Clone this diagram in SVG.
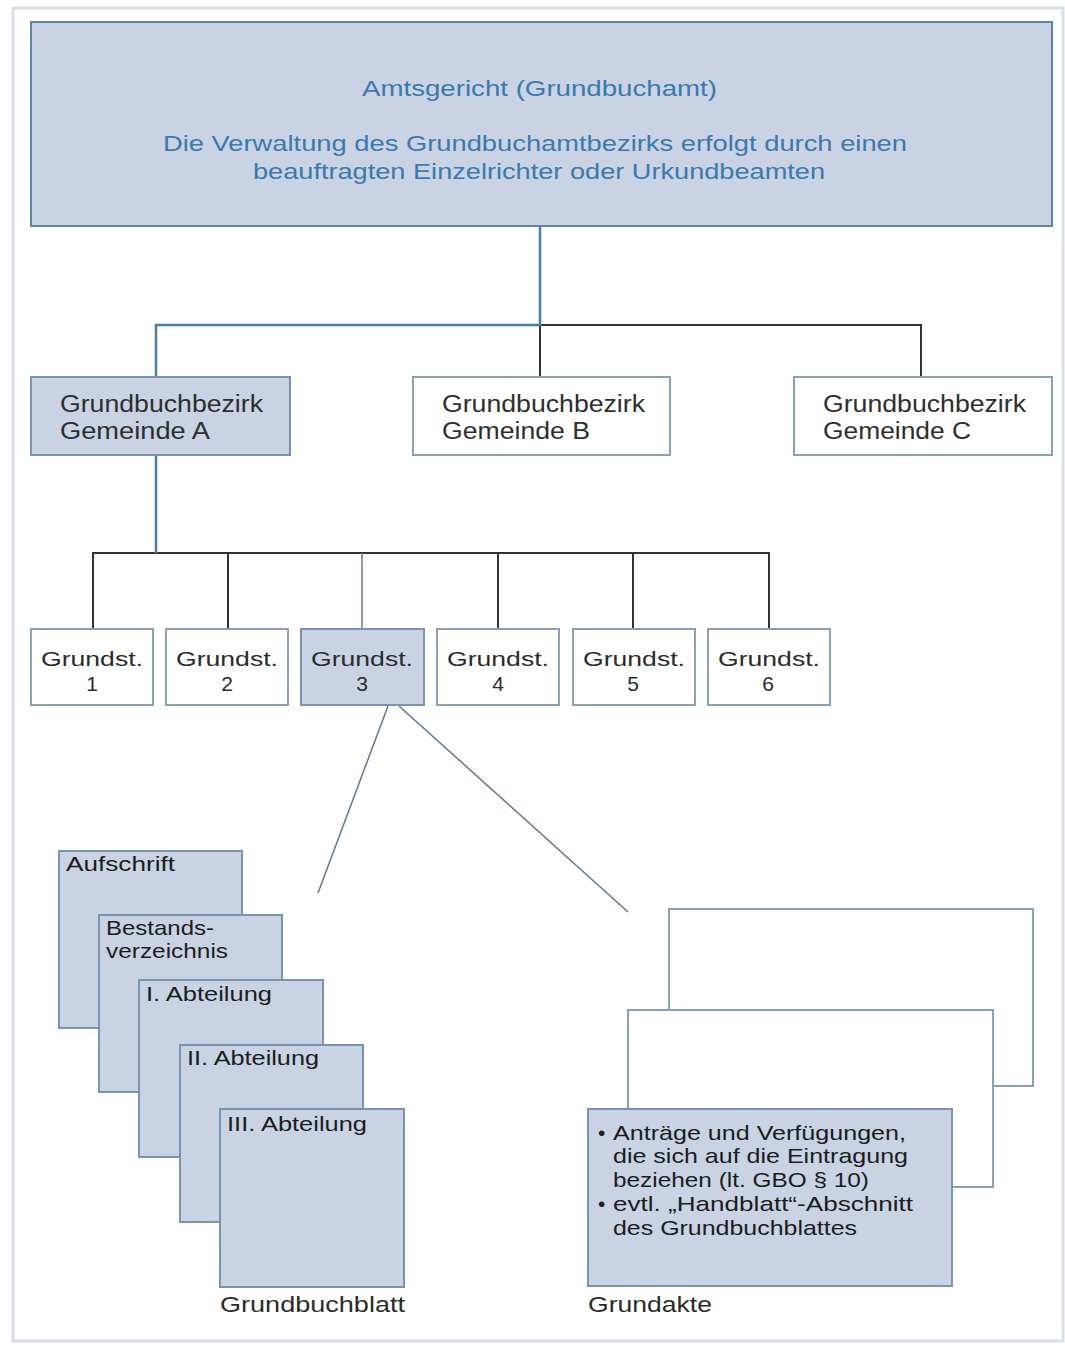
<svg xmlns="http://www.w3.org/2000/svg" width="1065" height="1346" viewBox="0 0 1065 1346">
<style>
.f{fill:#c9d3e3;stroke:#7b93b2;stroke-width:2}
.w{fill:#ffffff;stroke:#8a9fb8;stroke-width:2}
text{font-family:"Liberation Sans",Arial,sans-serif}
.t{font-size:22px;fill:#2b2b2b}
.g{font-size:23px;fill:#2e2e2e}
.s{font-size:21px;fill:#2b2b2b}
.k{font-size:21px;fill:#1c1c1c}
.tb{font-size:22px;fill:#3b79ae}
.c{fill:none;stroke:#333333;stroke-width:2}
.cb{fill:none;stroke:#4a80a8;stroke-width:2.5}
.cg{fill:none;stroke:#607890;stroke-width:1.5}
</style>
<rect x="0" y="0" width="1065" height="1346" fill="#ffffff"/>
<rect x="13" y="8" width="1050" height="1333" fill="none" stroke="#d8dee6" stroke-width="3"/>
<g id="connectors">
<path class="c" d="M540 325 H921 V377 M540 325 V377"/>
<path class="cb" d="M540 226 V325 H156 V377"/>
<path class="c" d="M93 629 V553 H769 V629 M228 553 V629 M498 553 V629 M633 553 V629"/>
<path class="cg" d="M362 553 V629"/>
<path class="cb" d="M156 455 V553"/>
<path class="cg" d="M388 706 L318 893 M399 706 L628 912"/>
</g>
<g id="amtsgericht">
<rect class="f" x="31" y="22" width="1021" height="204" style="stroke:#5f84a8"/>
<text class="tb" x="362" y="96" textLength="355" lengthAdjust="spacingAndGlyphs">Amtsgericht (Grundbuchamt)</text>
<text class="tb" x="163" y="151" textLength="744" lengthAdjust="spacingAndGlyphs">Die Verwaltung des Grundbuchamtbezirks erfolgt durch einen</text>
<text class="tb" x="253" y="179" textLength="572" lengthAdjust="spacingAndGlyphs">beauftragten Einzelrichter oder Urkundbeamten</text>
</g>
<g id="gemeinde-a">
<rect class="f" x="31" y="377" width="259" height="78"/>
<text class="g" x="60" y="412" textLength="203" lengthAdjust="spacingAndGlyphs">Grundbuchbezirk</text>
<text class="g" x="60" y="439" textLength="150" lengthAdjust="spacingAndGlyphs">Gemeinde A</text>
</g>
<g id="gemeinde-b">
<rect class="w" x="413" y="377" width="257" height="78"/>
<text class="g" x="442" y="412" textLength="203" lengthAdjust="spacingAndGlyphs">Grundbuchbezirk</text>
<text class="g" x="442" y="439" textLength="148" lengthAdjust="spacingAndGlyphs">Gemeinde B</text>
</g>
<g id="gemeinde-c">
<rect class="w" x="794" y="377" width="258" height="78"/>
<text class="g" x="823" y="412" textLength="203" lengthAdjust="spacingAndGlyphs">Grundbuchbezirk</text>
<text class="g" x="823" y="439" textLength="148" lengthAdjust="spacingAndGlyphs">Gemeinde C</text>
</g>
<g id="grundst-1">
<rect class="w" x="31" y="629" width="122" height="76"/>
<text class="s" x="41" y="666" textLength="102" lengthAdjust="spacingAndGlyphs">Grundst.</text>
<text class="s" x="92" y="691" text-anchor="middle">1</text>
</g>
<g id="grundst-2">
<rect class="w" x="166" y="629" width="122" height="76"/>
<text class="s" x="176" y="666" textLength="102" lengthAdjust="spacingAndGlyphs">Grundst.</text>
<text class="s" x="227" y="691" text-anchor="middle">2</text>
</g>
<g id="grundst-3">
<rect class="f" x="301" y="629" width="123" height="76"/>
<text class="s" x="311" y="666" textLength="102" lengthAdjust="spacingAndGlyphs">Grundst.</text>
<text class="s" x="362" y="691" text-anchor="middle">3</text>
</g>
<g id="grundst-4">
<rect class="w" x="437" y="629" width="122" height="76"/>
<text class="s" x="447" y="666" textLength="102" lengthAdjust="spacingAndGlyphs">Grundst.</text>
<text class="s" x="498" y="691" text-anchor="middle">4</text>
</g>
<g id="grundst-5">
<rect class="w" x="573" y="629" width="122" height="76"/>
<text class="s" x="583" y="666" textLength="102" lengthAdjust="spacingAndGlyphs">Grundst.</text>
<text class="s" x="633" y="691" text-anchor="middle">5</text>
</g>
<g id="grundst-6">
<rect class="w" x="708" y="629" width="122" height="76"/>
<text class="s" x="718" y="666" textLength="102" lengthAdjust="spacingAndGlyphs">Grundst.</text>
<text class="s" x="768" y="691" text-anchor="middle">6</text>
</g>
<g id="grundbuchblatt">
<rect class="f" x="59" y="851" width="183" height="177"/>
<text class="k" x="66" y="871" textLength="109" lengthAdjust="spacingAndGlyphs">Aufschrift</text>
<rect class="f" x="99" y="915" width="183" height="177"/>
<text class="k" x="106" y="935" textLength="108" lengthAdjust="spacingAndGlyphs">Bestands-</text>
<text class="k" x="106" y="958" textLength="122" lengthAdjust="spacingAndGlyphs">verzeichnis</text>
<rect class="f" x="139" y="980" width="184" height="177"/>
<text class="k" x="146" y="1001" textLength="126" lengthAdjust="spacingAndGlyphs">I. Abteilung</text>
<rect class="f" x="180" y="1045" width="183" height="177"/>
<text class="k" x="187" y="1065" textLength="132" lengthAdjust="spacingAndGlyphs">II. Abteilung</text>
<rect class="f" x="220" y="1109" width="184" height="178"/>
<text class="k" x="227" y="1131" textLength="140" lengthAdjust="spacingAndGlyphs">III. Abteilung</text>
<text class="t" x="220" y="1312" textLength="185" lengthAdjust="spacingAndGlyphs">Grundbuchblatt</text>
</g>
<g id="grundakte">
<rect class="w" x="669" y="909" width="364" height="177"/>
<rect class="w" x="628" y="1010" width="365" height="177"/>
<rect class="f" x="588" y="1109" width="364" height="177"/>
<text class="k" x="598" y="1140">•</text>
<text class="k" x="613" y="1140" textLength="293" lengthAdjust="spacingAndGlyphs">Anträge und Verfügungen,</text>
<text class="k" x="613" y="1163" textLength="295" lengthAdjust="spacingAndGlyphs">die sich auf die Eintragung</text>
<text class="k" x="613" y="1187" textLength="256" lengthAdjust="spacingAndGlyphs">beziehen (lt. GBO § 10)</text>
<text class="k" x="598" y="1211">•</text>
<text class="k" x="613" y="1211" textLength="300" lengthAdjust="spacingAndGlyphs">evtl. „Handblatt“-Abschnitt</text>
<text class="k" x="613" y="1235" textLength="244" lengthAdjust="spacingAndGlyphs">des Grundbuchblattes</text>
<text class="t" x="588" y="1312" textLength="124" lengthAdjust="spacingAndGlyphs">Grundakte</text>
</g>
</svg>
